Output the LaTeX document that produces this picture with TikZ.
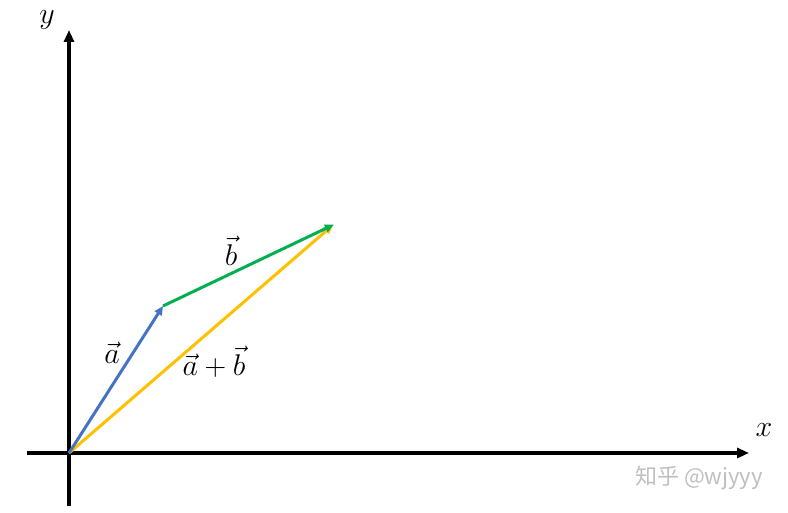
\RequirePackage{fix-cm}
\documentclass[tikz,border=0pt]{standalone}
\usepackage{fontspec}
\newfontfamily\cjk{Noto Sans CJK SC}
\usetikzlibrary{arrows.meta}
\definecolor{vblue}{RGB}{68,114,196}
\definecolor{vgreen}{RGB}{0,176,80}
\definecolor{vyellow}{RGB}{255,192,0}
\tikzset{
  axis/.style={line width=3.6pt,-{Triangle[length=12pt,width=10pt]}},
  vec/.style={line width=3pt,-{Triangle[length=9pt,width=8pt]}},
  lab/.style={font=\fontsize{30}{34}\selectfont,inner sep=0pt}
}
\begin{document}
\begin{tikzpicture}[x=1pt,y=-1pt]
\useasboundingbox (0,0) rectangle (788,513);
\coordinate (O) at (69,453);
\coordinate (A) at (163,306);
\coordinate (B) at (333,225);
\coordinate (xs) at (27,453);
\coordinate (xe) at (749,453);
\coordinate (ys) at (69,506);
\coordinate (ye) at (69,30);
\draw[axis] (xs) -- (xe);
\draw[axis] (ys) -- (ye);
\draw[vec,vyellow] (O) -- (B);
\draw[vec,vblue] (O) -- (A);
\draw[vec,vgreen,shorten >=-1pt] (A) -- (B);
\node[lab] (ylab) at (47,20) {$y$};
\node[lab] (xlab) at (764,430) {$x$};
\node[lab] (alab) at (112,353) {$\vec{a}$};
\node[lab] (blab) at (231,251) {$\vec{b}$};
\node[lab] (ablab) at (214,362) {$\vec{a}+\vec{b}$};
\node[font=\cjk\fontsize{22}{24}\selectfont,text=black!25,inner sep=0pt] (wm) at (699,478) {知乎 @wjyyy};
\end{tikzpicture}
\end{document}
